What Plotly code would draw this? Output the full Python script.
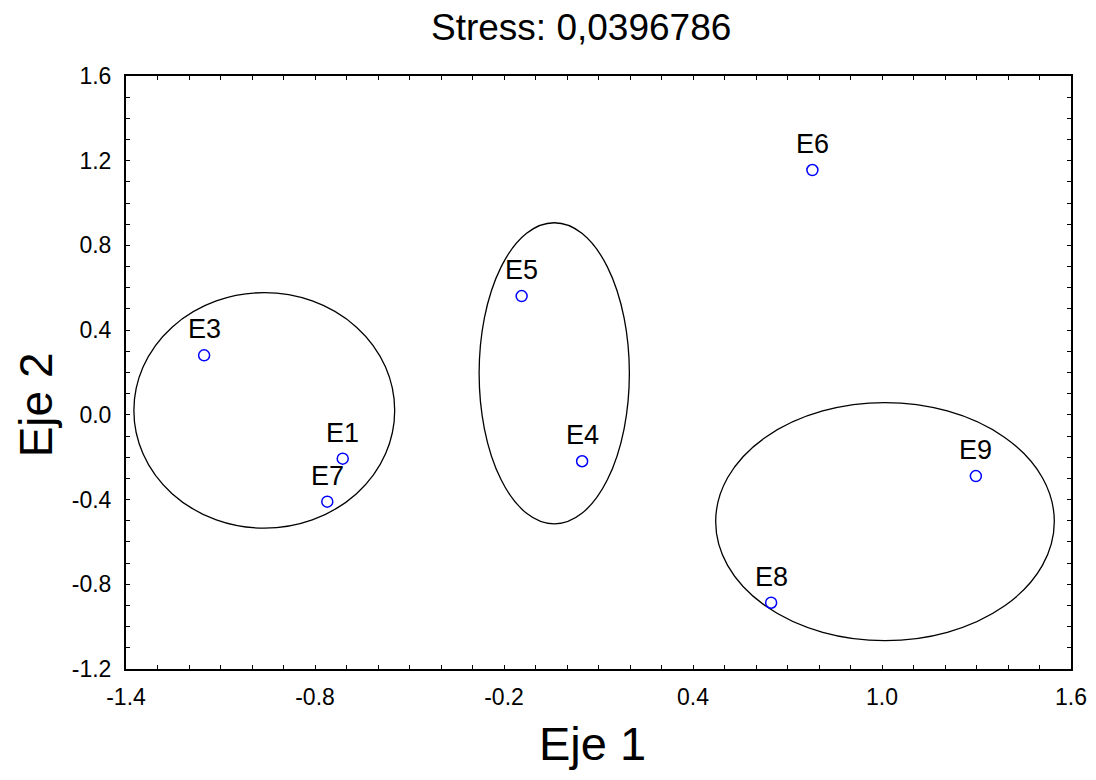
import plotly.graph_objects as go

# Data
labels = ["E1", "E3", "E4", "E5", "E6", "E7", "E8", "E9"]
eje1 = [-0.712, -1.152, 0.048, -0.144, 0.779, -0.761, 0.648, 1.298]
eje2 = [-0.207, 0.281, -0.219, 0.561, 1.156, -0.410, -0.887, -0.289]

# Group ellipses (x0, x1, y0, y1)
ell_x0 = [-1.375, -0.279, 0.472]
ell_x1 = [-0.547, 0.198, 1.547]
ell_y0 = [-0.535, -0.515, -1.066]
ell_y1 = [0.577, 0.907, 0.058]

title_text = "Stress: 0,0396786"
x_title = "Eje 1"
y_title = "Eje 2"
x_ticks = [-1.4, -0.8, -0.2, 0.4, 1.0, 1.6]
y_ticks = [-1.2, -0.8, -0.4, 0.0, 0.4, 0.8, 1.2, 1.6]

FONT = "Liberation Sans, Arial, sans-serif"

fig = go.Figure()
fig.add_trace(go.Scatter(
    x=eje1, y=eje2, mode="markers",
    marker=dict(symbol="circle-open", size=11, color="#0000ff",
                line=dict(width=1.5, color="#0000ff")),
    hoverinfo="skip", showlegend=False,
))

for x0, x1, y0, y1 in zip(ell_x0, ell_x1, ell_y0, ell_y1):
    fig.add_shape(type="circle", xref="x", yref="y", x0=x0, x1=x1, y0=y0, y1=y1,
                  line=dict(color="black", width=1.3), layer="below")

for lab, x, y in zip(labels, eje1, eje2):
    fig.add_annotation(x=x, y=y, text=lab, showarrow=False, xanchor="center",
                       yanchor="bottom", yshift=9,
                       font=dict(family=FONT, size=27, color="black"))

fig.add_annotation(xref="paper", yref="paper", x=0.4815, y=1.0826, text=title_text,
                   showarrow=False, xanchor="center", yanchor="middle",
                   font=dict(family=FONT, size=37, color="black"))
fig.add_annotation(xref="paper", yref="paper", x=0.494, y=-0.172, text=x_title,
                   showarrow=False, xanchor="center", yanchor="bottom",
                   borderpad=0,
                   font=dict(family=FONT, size=47, color="black"))
fig.add_annotation(xref="paper", yref="paper", x=-0.095, y=0.445, text=y_title,
                   showarrow=False, xanchor="center", yanchor="middle", textangle=-90,
                   font=dict(family=FONT, size=46, color="black"))

axis_common = dict(
    showgrid=False, zeroline=False, showline=True, linecolor="black", linewidth=2,
    mirror="ticks", ticks="inside", ticklen=4, tickwidth=1.2, tickcolor="black",
    tickfont=dict(family=FONT, size=23, color="black"), automargin=False,
    minor=dict(ticks="inside", ticklen=4, tickwidth=1.2, tickcolor="black", dtick=0.1,
               showgrid=False),
)
fig.update_xaxes(range=[-1.4, 1.6], tickvals=x_ticks,
                 ticktext=[f"{v:.1f}" for v in x_ticks], ticklabelstandoff=6,
                 **axis_common)
fig.update_yaxes(range=[-1.2, 1.6], tickvals=y_ticks,
                 ticktext=[f"{v:.1f}" for v in y_ticks], ticklabelstandoff=8,
                 **axis_common)
fig.update_xaxes(minor_tick0=-1.4)
fig.update_yaxes(minor_tick0=-1.2)

fig.update_layout(
    width=1080, height=764,
    margin=dict(l=118, r=17, t=68, b=103, autoexpand=False),
    plot_bgcolor="white", paper_bgcolor="white",
    font=dict(family=FONT, color="black"),
)

fig.write_html("out.html")
